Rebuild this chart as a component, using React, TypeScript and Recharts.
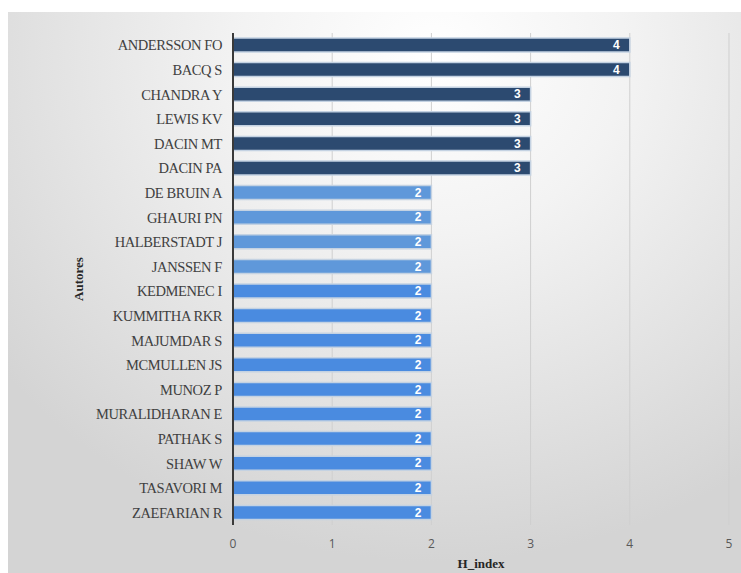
import React from 'react';
import { BarChart, Bar, XAxis, YAxis, CartesianGrid, LabelList, Cell, Label } from 'recharts';

const authors = [
  'ANDERSSON FO', 'BACQ S', 'CHANDRA Y', 'LEWIS KV', 'DACIN MT', 'DACIN PA',
  'DE BRUIN A', 'GHAURI PN', 'HALBERSTADT J', 'JANSSEN F', 'KEDMENEC I',
  'KUMMITHA RKR', 'MAJUMDAR S', 'MCMULLEN JS', 'MUNOZ P', 'MURALIDHARAN E',
  'PATHAK S', 'SHAW W', 'TASAVORI M', 'ZAEFARIAN R',
];
const hIndex = [4, 4, 3, 3, 3, 3, 2, 2, 2, 2, 2, 2, 2, 2, 2, 2, 2, 2, 2, 2];
const xTicks = [0, 1, 2, 3, 4, 5];

const data = authors.map((name, i) => ({ name, h: hIndex[i] }));

const colorFor = (v: number, i: number) => {
  if (v >= 3) return '#2c4a70';
  if (i < 10) return '#5f98da';
  return '#4a8be0';
};

export default function App() {
  return (
    <div style={{ position: 'absolute', left: 0, top: 0, width: 741, height: 573, background: '#ffffff', overflow: 'hidden' }}>
      <div
        style={{
          position: 'absolute', left: 8, top: 12, width: 733, height: 561,
          background: 'radial-gradient(ellipse 75% 90% at 58% 8%, #ffffff 0%, #f3f3f3 35%, #e0e0e0 75%, #d4d4d4 100%)',
        }}
      />
      <div style={{ position: 'absolute', left: 0, top: 0 }}>
        <BarChart
          width={741}
          height={573}
          data={data}
          layout="vertical"
          margin={{ top: 33, right: 12, bottom: 0, left: 0 }}
        >
          <CartesianGrid horizontal={false} vertical stroke="#cfcfcf" strokeWidth={1} />
          <XAxis
            type="number"
            domain={[0, 5]}
            ticks={xTicks}
            height={48}
            axisLine={false}
            tickLine={false}
            tickSize={0}
            tickMargin={14}
            tick={{ fill: '#595959', fontSize: 12, fontFamily: 'Open Sans, sans-serif' }}
          >
            <Label
              value="H_index"
              position="center"
              dy={14}
              style={{ fontFamily: '"Liberation Serif", serif', fontWeight: 'bold', fontSize: 13, fill: '#262626' }}
            />
          </XAxis>
          <YAxis
            type="category"
            dataKey="name"
            width={233}
            axisLine={{ stroke: '#3a3a3a', strokeWidth: 2 }}
            tickLine={false}
            tickSize={0}
            tickMargin={11}
            interval={0}
            tick={{ fill: '#404040', fontSize: 14.5, fontFamily: '"Liberation Serif", serif', letterSpacing: -0.4 }}
          >
            <Label
              value="Autores"
              position="center"
              angle={-90}
              dx={-38}
              style={{ fontFamily: '"Liberation Serif", serif', fontWeight: 'bold', fontSize: 13, fill: '#262626' }}
            />
          </YAxis>
          <Bar dataKey="h" barSize={14} isAnimationActive={false} stroke="#c4d2e2" strokeWidth={1.5}>
            {data.map((d, i) => (
              <Cell key={d.name} fill={colorFor(d.h, i)} />
            ))}
            <LabelList
              dataKey="h"
              position="insideRight"
              offset={10}
              style={{ fill: '#ffffff', fontSize: 12, fontWeight: 'bold', fontFamily: '"Liberation Sans", sans-serif' }}
            />
          </Bar>
        </BarChart>
      </div>
    </div>
  );
}
